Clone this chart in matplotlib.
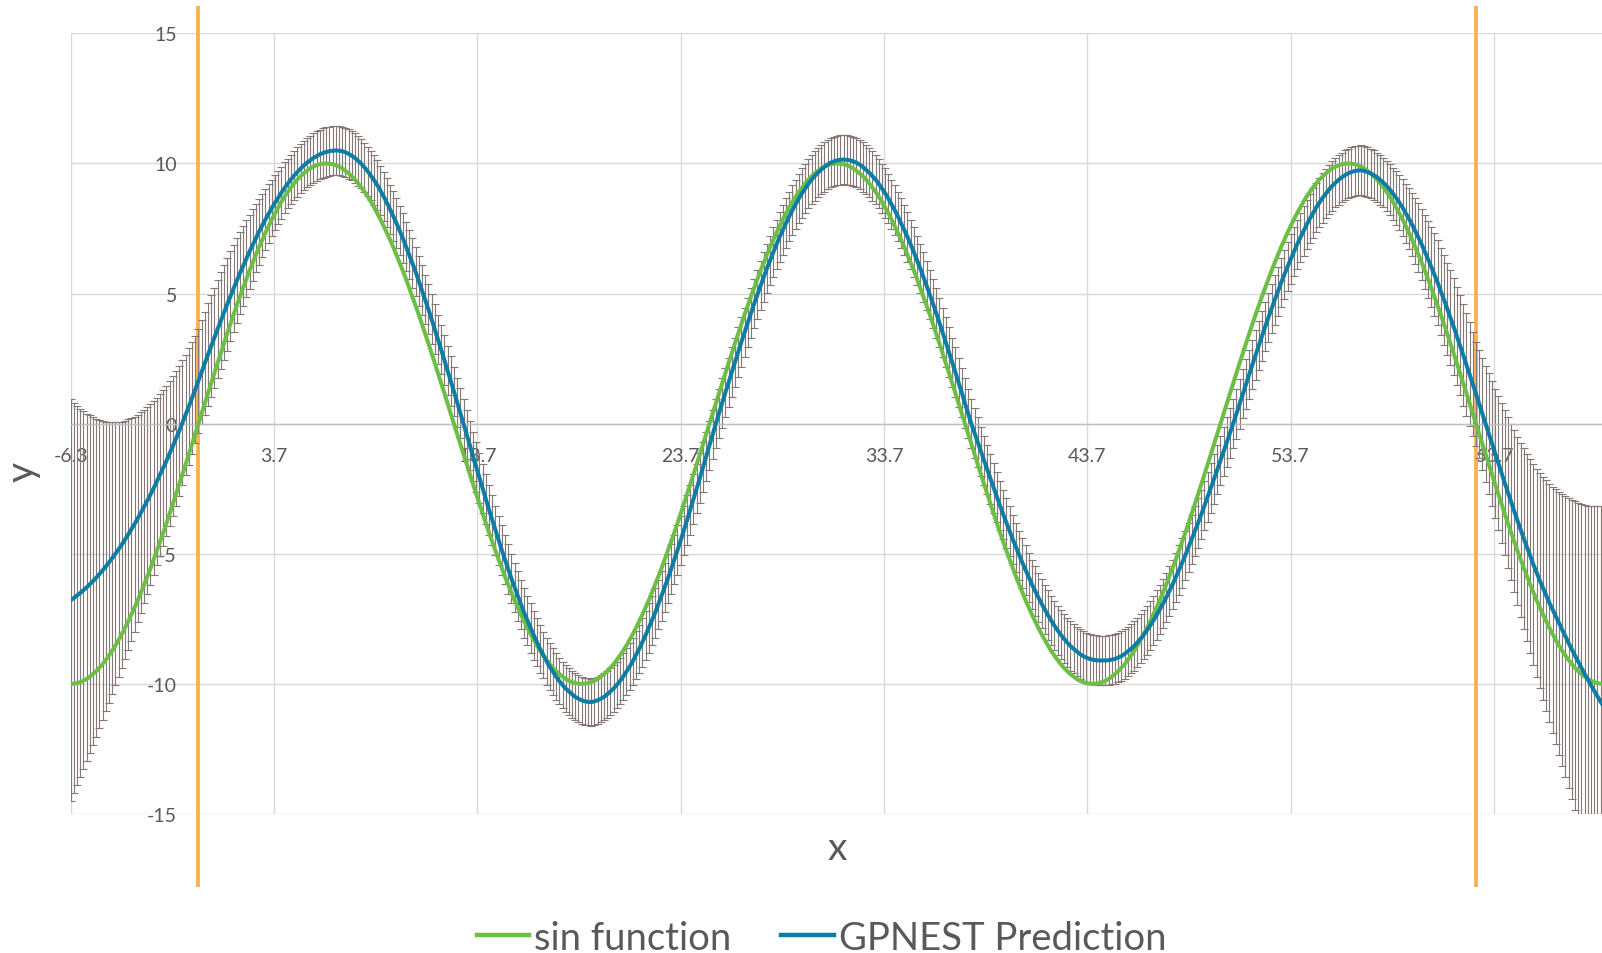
import numpy as np
import matplotlib.pyplot as plt
from matplotlib.lines import Line2D

plt.rcParams['font.family'] = ['Lato', 'DejaVu Sans']
plt.rcParams['axes.unicode_minus'] = False

# sampling grid used by the chart: starts at -2*pi, step pi/20
x_start = -6.2832
x_step = 0.15708

# sin function
sin_values = [
    -10.00, -9.99, -9.97, -9.93, -9.88, -9.81, -9.72, -9.62, -9.51, -9.38, -9.24, -9.08, -8.91, -8.73, -8.53, -8.31, -8.09, -7.85, -7.60, -7.34,
    -7.07, -6.79, -6.49, -6.19, -5.88, -5.56, -5.22, -4.89, -4.54, -4.19, -3.83, -3.46, -3.09, -2.71, -2.33, -1.95, -1.56, -1.18, -0.78, -0.39,
    # cycle 1
    0.00, 0.39, 0.78, 1.18, 1.56, 1.95, 2.33, 2.71, 3.09, 3.46, 3.83, 4.19, 4.54, 4.89, 5.22, 5.56, 5.88, 6.19, 6.49, 6.79,
    7.07, 7.34, 7.60, 7.85, 8.09, 8.31, 8.53, 8.73, 8.91, 9.08, 9.24, 9.38, 9.51, 9.62, 9.72, 9.81, 9.88, 9.93, 9.97, 9.99,
    10.00, 9.99, 9.97, 9.93, 9.88, 9.81, 9.72, 9.62, 9.51, 9.38, 9.24, 9.08, 8.91, 8.73, 8.53, 8.31, 8.09, 7.85, 7.60, 7.34,
    7.07, 6.79, 6.49, 6.19, 5.88, 5.56, 5.22, 4.89, 4.54, 4.19, 3.83, 3.46, 3.09, 2.71, 2.33, 1.95, 1.56, 1.18, 0.78, 0.39,
    0.00, -0.39, -0.78, -1.18, -1.56, -1.95, -2.33, -2.71, -3.09, -3.46, -3.83, -4.19, -4.54, -4.89, -5.22, -5.56, -5.88, -6.19, -6.49, -6.79,
    -7.07, -7.34, -7.60, -7.85, -8.09, -8.31, -8.53, -8.73, -8.91, -9.08, -9.24, -9.38, -9.51, -9.62, -9.72, -9.81, -9.88, -9.93, -9.97, -9.99,
    -10.00, -9.99, -9.97, -9.93, -9.88, -9.81, -9.72, -9.62, -9.51, -9.38, -9.24, -9.08, -8.91, -8.73, -8.53, -8.31, -8.09, -7.85, -7.60, -7.34,
    -7.07, -6.79, -6.49, -6.19, -5.88, -5.56, -5.22, -4.89, -4.54, -4.19, -3.83, -3.46, -3.09, -2.71, -2.33, -1.95, -1.56, -1.18, -0.78, -0.39,
    # cycle 2
    0.00, 0.39, 0.78, 1.18, 1.56, 1.95, 2.33, 2.71, 3.09, 3.46, 3.83, 4.19, 4.54, 4.89, 5.22, 5.56, 5.88, 6.19, 6.49, 6.79,
    7.07, 7.34, 7.60, 7.85, 8.09, 8.31, 8.53, 8.73, 8.91, 9.08, 9.24, 9.38, 9.51, 9.62, 9.72, 9.81, 9.88, 9.93, 9.97, 9.99,
    10.00, 9.99, 9.97, 9.93, 9.88, 9.81, 9.72, 9.62, 9.51, 9.38, 9.24, 9.08, 8.91, 8.73, 8.53, 8.31, 8.09, 7.85, 7.60, 7.34,
    7.07, 6.79, 6.49, 6.19, 5.88, 5.56, 5.22, 4.89, 4.54, 4.19, 3.83, 3.46, 3.09, 2.71, 2.33, 1.95, 1.56, 1.18, 0.78, 0.39,
    0.00, -0.39, -0.78, -1.18, -1.56, -1.95, -2.33, -2.71, -3.09, -3.46, -3.83, -4.19, -4.54, -4.89, -5.22, -5.56, -5.88, -6.19, -6.49, -6.79,
    -7.07, -7.34, -7.60, -7.85, -8.09, -8.31, -8.53, -8.73, -8.91, -9.08, -9.24, -9.38, -9.51, -9.62, -9.72, -9.81, -9.88, -9.93, -9.97, -9.99,
    -10.00, -9.99, -9.97, -9.93, -9.88, -9.81, -9.72, -9.62, -9.51, -9.38, -9.24, -9.08, -8.91, -8.73, -8.53, -8.31, -8.09, -7.85, -7.60, -7.34,
    -7.07, -6.79, -6.49, -6.19, -5.88, -5.56, -5.22, -4.89, -4.54, -4.19, -3.83, -3.46, -3.09, -2.71, -2.33, -1.95, -1.56, -1.18, -0.78, -0.39,
    # cycle 3
    0.00, 0.39, 0.78, 1.18, 1.56, 1.95, 2.33, 2.71, 3.09, 3.46, 3.83, 4.19, 4.54, 4.89, 5.22, 5.56, 5.88, 6.19, 6.49, 6.79,
    7.07, 7.34, 7.60, 7.85, 8.09, 8.31, 8.53, 8.73, 8.91, 9.08, 9.24, 9.38, 9.51, 9.62, 9.72, 9.81, 9.88, 9.93, 9.97, 9.99,
    10.00, 9.99, 9.97, 9.93, 9.88, 9.81, 9.72, 9.62, 9.51, 9.38, 9.24, 9.08, 8.91, 8.73, 8.53, 8.31, 8.09, 7.85, 7.60, 7.34,
    7.07, 6.79, 6.49, 6.19, 5.88, 5.56, 5.22, 4.89, 4.54, 4.19, 3.83, 3.46, 3.09, 2.71, 2.33, 1.95, 1.56, 1.18, 0.78, 0.39,
    0.00, -0.39, -0.78, -1.18, -1.56, -1.95, -2.33, -2.71, -3.09, -3.46, -3.83, -4.19, -4.54, -4.89, -5.22, -5.56, -5.88, -6.19, -6.49, -6.79,
    -7.07, -7.34, -7.60, -7.85, -8.09, -8.31, -8.53, -8.73, -8.91, -9.08, -9.24, -9.38, -9.51, -9.62, -9.72, -9.81, -9.88, -9.93, -9.97, -9.99,
    -10.00,
]

# GPNEST prediction (blue curve)
gp_mean = [
    -6.78, -6.70, -6.60, -6.51, -6.40, -6.29, -6.17, -6.05, -5.92, -5.78, -5.64, -5.49, -5.33, -5.17, -5.00, -4.83, -4.65, -4.46, -4.26, -4.06,
    -3.86, -3.64, -3.42, -3.19, -2.96, -2.72, -2.48, -2.22, -1.96, -1.70, -1.43, -1.15, -0.86, -0.57, -0.28, 0.03, 0.34, 0.66, 0.98, 1.31,
    1.65,
    1.98, 2.32, 2.65, 2.98, 3.31, 3.63, 3.95, 4.27, 4.58, 4.89, 5.19, 5.49, 5.78, 6.06, 6.34, 6.61, 6.87, 7.13, 7.38, 7.62,
    7.85, 8.07, 8.29, 8.49, 8.69, 8.88, 9.06, 9.23, 9.39, 9.54, 9.67, 9.80, 9.92, 10.03, 10.12, 10.21, 10.28, 10.35, 10.40, 10.44,
    10.47, 10.49,
    10.50, 10.49, 10.47, 10.43, 10.37, 10.30, 10.21, 10.10, 9.99, 9.85, 9.70, 9.53, 9.36, 9.17, 8.96, 8.73, 8.49, 8.24, 7.98, 7.71,
    7.42, 7.13, 6.81, 6.50, 6.17, 5.84, 5.48, 5.13, 4.77, 4.40, 4.02, 3.63, 3.24, 2.85, 2.45, 2.05, 1.64, 1.24, 0.82, 0.41,
    0.00, -0.42, -0.83, -1.26, -1.67, -2.09, -2.49, -2.90, -3.31, -3.70, -4.10, -4.48, -4.86, -5.23, -5.59, -5.95, -6.29, -6.62, -6.94, -7.27,
    -7.56, -7.85, -8.13, -8.40, -8.66, -8.89, -9.13, -9.34, -9.53, -9.72, -9.89, -10.04, -10.18, -10.29, -10.40, -10.50, -10.57, -10.63, -10.67, -10.69,
    -10.70,
    -10.67, -10.63, -10.57, -10.50, -10.40, -10.29, -10.18, -10.04, -9.89, -9.72, -9.53, -9.34, -9.13, -8.89, -8.66, -8.40, -8.13, -7.85, -7.56, -7.27,
    -6.94, -6.62, -6.29, -5.95, -5.59, -5.23, -4.86, -4.48, -4.10, -3.70, -3.31, -2.90, -2.49, -2.09, -1.67, -1.26, -0.83, -0.42, 0.00,
    0.40, 0.79, 1.20, 1.58, 1.98, 2.36, 2.75, 3.14, 3.51, 3.89, 4.25, 4.61, 4.96, 5.30, 5.64, 5.97, 6.28, 6.59, 6.89, 7.18,
    7.45, 7.71, 7.97, 8.21, 8.43, 8.66, 8.86, 9.04, 9.22, 9.38, 9.52, 9.65, 9.76, 9.87, 9.96, 10.03, 10.08, 10.12, 10.14, 10.15,
    10.14, 10.12, 10.08, 10.03, 9.96, 9.87, 9.76, 9.65, 9.52, 9.38, 9.22, 9.04, 8.86, 8.66, 8.43, 8.21, 7.97, 7.71, 7.45, 7.18,
    6.89, 6.59, 6.28, 5.97, 5.64, 5.30, 4.96, 4.61, 4.25, 3.89, 3.51, 3.14, 2.75, 2.36, 1.98, 1.58, 1.20, 0.79, 0.40, 0.00,
    -0.35, -0.71, -1.07, -1.42, -1.77, -2.12, -2.47, -2.81, -3.15, -3.49, -3.81, -4.13, -4.45, -4.75, -5.06, -5.35, -5.63, -5.91, -6.18, -6.43,
    -6.68, -6.92, -7.14, -7.36, -7.56, -7.76, -7.94, -8.11, -8.26, -8.41, -8.54, -8.65, -8.75, -8.85, -8.93, -8.99, -9.04, -9.07, -9.09, -9.10,
    -9.10, -9.10,
    -9.09, -9.07, -9.04, -8.99, -8.93, -8.85, -8.75, -8.65, -8.54, -8.41, -8.26, -8.11, -7.94, -7.76, -7.56, -7.36, -7.14, -6.92, -6.68, -6.43,
    -6.18, -5.91, -5.63, -5.35, -5.06, -4.75, -4.45, -4.13, -3.81, -3.49, -3.15, -2.81, -2.47, -2.12, -1.77, -1.42, -1.07, -0.71, -0.35, 0.00,
    0.38, 0.76, 1.15, 1.52, 1.90, 2.27, 2.64, 3.01, 3.37, 3.73, 4.08, 4.42, 4.76, 5.08, 5.42, 5.73, 6.03, 6.32, 6.61, 6.89,
    7.15, 7.40, 7.65, 7.88, 8.09, 8.31, 8.50, 8.68, 8.84, 9.00, 9.14, 9.26, 9.37, 9.47, 9.55, 9.62, 9.67, 9.71, 9.73, 9.74,
    9.71, 9.67, 9.62, 9.55, 9.47, 9.37, 9.26, 9.14, 9.00, 8.84, 8.68, 8.50, 8.31, 8.09, 7.88, 7.65, 7.40, 7.15, 6.89, 6.61,
    6.32, 6.03, 5.73, 5.42, 5.08, 4.76, 4.42, 4.08, 3.73, 3.37, 3.01, 2.64, 2.27, 1.90, 1.52, 1.15, 0.76, 0.38, 0.00,
    -0.38, -0.76, -1.15, -1.52, -1.90, -2.27, -2.64, -3.01, -3.37, -3.73, -4.08, -4.42, -4.76, -5.08, -5.42, -5.73, -6.03, -6.32, -6.61, -6.89,
    -7.15, -7.41, -7.67, -7.92, -8.17, -8.43, -8.67, -8.91, -9.14, -9.38, -9.61, -9.83, -10.05, -10.26, -10.47, -10.68, -10.87,
]

# error bar half-length of the prediction
gp_error = [
    7.71, 7.50, 7.29, 7.08, 6.88, 6.68, 6.49, 6.29, 6.11, 5.92, 5.74, 5.56, 5.39, 5.22, 5.06, 4.89, 4.73, 4.58, 4.43, 4.28,
    4.13, 3.99, 3.86, 3.72, 3.59, 3.47, 3.34, 3.22, 3.11, 3.00, 2.89, 2.78, 2.68, 2.58, 2.49, 2.40, 2.31, 2.23, 2.15, 2.07,
    2.00, 2.00, 1.99, 1.97, 1.95, 1.92, 1.89, 1.86, 1.82, 1.77, 1.73, 1.68, 1.63, 1.58, 1.53, 1.48, 1.42, 1.37, 1.32, 1.27,
    1.22, 1.18, 1.13, 1.09, 1.06, 1.03, 1.00, 0.98, 0.96, 0.95, 0.95,
    0.95, 0.95, 0.95, 0.95, 0.95, 0.95, 0.95, 0.95, 0.95, 0.95, 0.95, 0.95, 0.95, 0.95, 0.95, 0.95, 0.95, 0.95, 0.95, 0.95, 0.95, 0.95, 0.95, 0.95, 0.95,
    0.95, 0.95, 0.95, 0.95, 0.95, 0.95, 0.95, 0.95, 0.95, 0.95, 0.95, 0.95, 0.95, 0.95, 0.95, 0.95, 0.95, 0.95, 0.95, 0.95, 0.95, 0.95, 0.95, 0.95, 0.95,
    0.95, 0.95, 0.95, 0.95, 0.95, 0.95, 0.95, 0.95, 0.95, 0.95, 0.95, 0.95, 0.95, 0.95, 0.95, 0.95, 0.95, 0.95, 0.95, 0.95, 0.95, 0.95, 0.95, 0.95, 0.95,
    0.93, 0.91,
    0.90, 0.90, 0.90, 0.90, 0.90, 0.90, 0.90, 0.90, 0.90, 0.90, 0.90, 0.90, 0.90, 0.90, 0.90, 0.90, 0.90, 0.90, 0.90, 0.90, 0.90, 0.90, 0.90, 0.90, 0.90,
    0.90, 0.90, 0.90, 0.90,
    0.91, 0.93,
    0.95, 0.95, 0.95, 0.95, 0.95, 0.95, 0.95, 0.95, 0.95, 0.95, 0.95, 0.95, 0.95, 0.95, 0.95, 0.95, 0.95, 0.95, 0.95, 0.95, 0.95, 0.95, 0.95, 0.95, 0.95,
    0.95, 0.95, 0.95, 0.95, 0.95, 0.95, 0.95, 0.95, 0.95, 0.95, 0.95, 0.95, 0.95, 0.95, 0.95, 0.95, 0.95, 0.95, 0.95, 0.95, 0.95, 0.95, 0.95, 0.95, 0.95,
    0.95, 0.95, 0.95, 0.95, 0.95, 0.95, 0.95, 0.95, 0.95, 0.95, 0.95, 0.95, 0.95, 0.95, 0.95, 0.95, 0.95, 0.95, 0.95, 0.95, 0.95, 0.95, 0.95, 0.95, 0.95,
    0.95, 0.95, 0.95, 0.95, 0.95, 0.95, 0.95, 0.95, 0.95, 0.95, 0.95, 0.95, 0.95, 0.95, 0.95, 0.95, 0.95, 0.95, 0.95, 0.95, 0.95, 0.95, 0.95, 0.95, 0.95,
    0.95, 0.95, 0.95, 0.95, 0.95, 0.95, 0.95, 0.95, 0.95, 0.95, 0.95, 0.95, 0.95, 0.95, 0.95, 0.95, 0.95, 0.95, 0.95, 0.95, 0.95, 0.95, 0.95, 0.95, 0.95,
    0.95, 0.95, 0.95, 0.95, 0.95, 0.95, 0.95, 0.95, 0.95, 0.95, 0.95, 0.95, 0.95, 0.95, 0.95, 0.95, 0.95, 0.95, 0.95, 0.95, 0.95, 0.95, 0.95, 0.95, 0.95,
    0.95, 0.95, 0.95, 0.95, 0.95, 0.95, 0.95, 0.95, 0.95, 0.95, 0.95, 0.95, 0.95, 0.95, 0.95, 0.95, 0.95, 0.95, 0.95, 0.95, 0.95, 0.95, 0.95, 0.95, 0.95,
    0.95, 0.95, 0.95, 0.95, 0.95, 0.95, 0.95, 0.95, 0.95, 0.95, 0.95, 0.95, 0.95, 0.95, 0.95, 0.95, 0.95, 0.95, 0.95, 0.95, 0.95, 0.95, 0.95, 0.95, 0.95,
    0.95, 0.95, 0.95, 0.95, 0.95, 0.95, 0.95, 0.95, 0.95, 0.95, 0.95, 0.95, 0.95, 0.95, 0.95, 0.95, 0.95, 0.95, 0.95, 0.95, 0.95, 0.95, 0.95, 0.95, 0.95,
    0.95, 0.95, 0.95, 0.95, 0.95, 0.95,
    0.95, 0.95, 0.96, 0.98, 1.00, 1.03, 1.06, 1.09, 1.13, 1.18, 1.22, 1.27, 1.32, 1.37, 1.42, 1.48, 1.53, 1.58, 1.63, 1.68,
    1.73, 1.77, 1.82, 1.86, 1.89, 1.92, 1.95, 1.97, 1.99, 2.00, 2.00,
    2.07, 2.15, 2.23, 2.31, 2.40, 2.49, 2.58, 2.68, 2.78, 2.89, 3.00, 3.11, 3.22, 3.34, 3.47, 3.59, 3.72, 3.86, 3.99, 4.13,
    4.28, 4.43, 4.58, 4.73, 4.89, 5.06, 5.22, 5.39, 5.56, 5.74, 5.92, 6.11, 6.29, 6.49, 6.68, 6.88, 7.08, 7.29, 7.50, 7.71,
]

assert len(gp_mean) == len(sin_values) == len(gp_error), (len(sin_values), len(gp_mean), len(gp_error))

# training range markers (orange lines), from 0 to 20*pi
train_bounds = [0.0, 62.832]
marker_span = [-17.8, 16.05]

x = x_start + x_step * np.arange(len(sin_values))

green = '#6DBE45'
blue = '#0E7DA6'
orange = '#F9B04E'
bar_color = '#857773'
grid_color = '#D9D9D9'
label_color = '#595959'

fig = plt.figure(figsize=(16.02, 9.54), dpi=100)
ax = fig.add_axes([0.0441, 0.1457, 0.9559, 0.8183])

ax.vlines(train_bounds, marker_span[0], marker_span[1], colors=orange, lw=2.7,
          clip_on=False, zorder=1.5)
ax.errorbar(x, gp_mean, yerr=gp_error, fmt='none', ecolor=bar_color,
            elinewidth=0.8, capsize=3.2, capthick=0.8, zorder=2)
ax.plot(x, sin_values, color=green, lw=2.9, zorder=3, solid_capstyle='round')
ax.plot(x, gp_mean, color=blue, lw=2.9, zorder=4, solid_capstyle='round')

ax.set_xlim(x_start, 69.03)
ax.set_ylim(-15, 15)

xticks = [x_start + 10 * i for i in range(8)]
ax.set_xticks(xticks)
ax.set_xticklabels([f'{t:.1f}' for t in xticks])
ax.set_yticks([-15, -10, -5, 0, 5, 10, 15])
ax.grid(True, color=grid_color, lw=1.0, zorder=0)
ax.set_axisbelow(True)

for side in ['top', 'right']:
    ax.spines[side].set_visible(False)
ax.spines['left'].set_position(('data', 0))
ax.spines['left'].set_visible(False)
ax.spines['bottom'].set_position(('data', 0))
ax.spines['bottom'].set_color('#BFBFBF')
ax.spines['bottom'].set_linewidth(1.0)

ax.tick_params(axis='x', length=0, pad=16.5, labelsize=14, labelcolor=label_color)
ax.tick_params(axis='y', length=0, pad=15.5, labelsize=14, labelcolor=label_color)

fig.text(837 / 1602, 1 - 849 / 954, 'x', ha='center', va='center', fontsize=28, color=label_color)
fig.text(22.5 / 1602, 1 - 472 / 954, 'y', ha='center', va='center', fontsize=28,
         color=label_color, rotation=90)

handles = [Line2D([], [], color=green, lw=3.2), Line2D([], [], color=blue, lw=3.2)]
fig.legend(handles, ['sin function', 'GPNEST Prediction'], loc='center',
           bbox_to_anchor=(0.5128, 0.016), ncol=2, frameon=False, fontsize=27.5,
           handlelength=1.38, handletextpad=0.13, columnspacing=1.3,
           labelcolor=label_color)

fig.savefig('out.png', dpi=100)
